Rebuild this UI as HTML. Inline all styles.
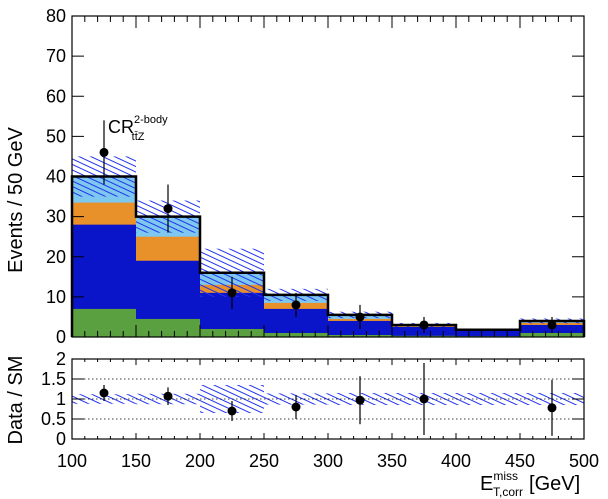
<!DOCTYPE html>
<html><head><meta charset="utf-8"><style>
body{margin:0;background:#fff;}
svg{display:block;font-family:"Liberation Sans",sans-serif;}
</style></head><body>
<svg id="c" width="608" height="499" viewBox="0 0 608 499">
<defs>
<pattern id="hatch" patternUnits="userSpaceOnUse" width="5" height="5" patternTransform="rotate(-155)">
<line x1="0" y1="1.5" x2="5" y2="1.5" stroke="#2233ee" stroke-width="1"/>
</pattern>
</defs>
<g id="main"></g>
<g id="ratio"></g>
</svg>
<script>
const binEdges=[100,150,200,250,300,350,400,450,500];
const green=[7,4.5,2,1,0.5,0.3,0.2,1];
const blue=[28,19,11,7,4,2.5,1.5,3];
const orange=[33.5,25,13,8.5,4.5,2.7,1.6,3.5];
const total=[40,30,16,10.5,5.5,3,1.8,4];
const bandErr=[5,4,6,1.5,0.8,0.5,0.3,0.6];
const dataVal=[46,32,11,8,5,3,null,3];
const dataErr=[8,6,4,3,3,2,0,2];
const ratioVal=[1.15,1.07,0.7,0.8,0.97,1.0,null,0.78];
const ratioErr=[0.2,0.22,0.25,0.3,0.6,0.9,0,0.7];
const ratioBand=[0.12,0.13,0.35,0.14,0.15,0.15,0.15,0.15];
const yTicks=[0,10,20,30,40,50,60,70,80];
const rTicks=[0,0.5,1,1.5,2];
const xTicks=[100,150,200,250,300,350,400,450,500];

const NS="http://www.w3.org/2000/svg";
const X0=72,X1=584;
const x=v=>X0+(v-100)/400*(X1-X0);
const y=v=>337-v*(337-16)/80;
const ry=v=>439-v*40;
function mk(p,t,a){const e=document.createElementNS(NS,t);for(const k in a)e.setAttribute(k,a[k]);p.appendChild(e);return e;}
const M=document.getElementById('main'),R=document.getElementById('ratio');

const layers=[[orange,'#e8902a','orange-layer'],[blue,'#0a14c8','blue-layer'],[green,'#5aa040','green-layer']];
for(let i=0;i<8;i++){
 const xa=x(binEdges[i]),xb=x(binEdges[i+1]);
 let r=mk(M,'rect',{x:xa,y:y(total[i]),width:xb-xa,height:y(0)-y(total[i]),fill:'#7ec8f0'});
 
 
 for(const [arr,col,nm] of layers){
  r=mk(M,'rect',{x:xa,y:y(arr[i]),width:xb-xa,height:y(0)-y(arr[i]),fill:col});
  
  
 }
 r=mk(M,'rect',{x:xa,y:y(total[i]+bandErr[i]),width:xb-xa,height:y(total[i]-bandErr[i])-y(total[i]+bandErr[i]),fill:'url(#hatch)'});
 
 
}
let d='M'+x(100)+','+y(0);
for(let i=0;i<8;i++){d+=' L'+x(binEdges[i])+','+y(total[i])+' L'+x(binEdges[i+1])+','+y(total[i]);}
d+=' L'+x(500)+','+y(0);
let o=mk(M,'path',{d:d,fill:'none',stroke:'#000','stroke-width':2.5});


mk(M,'rect',{x:X0,y:16,width:X1-X0,height:321,fill:'none',stroke:'#000','stroke-width':1.2});
for(const t of yTicks){
 mk(M,'line',{x1:X0,x2:X0+12,y1:y(t),y2:y(t),stroke:'#000'});
 mk(M,'line',{x1:X1,x2:X1-12,y1:y(t),y2:y(t),stroke:'#000'});
 const tx=mk(M,'text',{x:X0-6,y:y(t)+6,'text-anchor':'end','font-size':18});
 tx.textContent=t;
 
 
}
for(let v=100;v<=500;v+=10){const L=v%50==0?12:6;
 mk(M,'line',{x1:x(v),x2:x(v),y1:337,y2:337-L,stroke:'#000'});mk(M,'line',{x1:x(v),x2:x(v),y1:16,y2:16+L,stroke:'#000'});
 mk(R,'line',{x1:x(v),x2:x(v),y1:439,y2:439-L/2,stroke:'#000'});mk(R,'line',{x1:x(v),x2:x(v),y1:359,y2:359+L/2,stroke:'#000'});}
for(let i=0;i<8;i++){if(dataVal[i]==null)continue;const cx=(x(binEdges[i])+x(binEdges[i+1]))/2;
 mk(M,'line',{x1:cx,x2:cx,y1:y(dataVal[i]+dataErr[i]),y2:y(dataVal[i]-dataErr[i]),stroke:'#000','stroke-width':1.2});
 const c=mk(M,'circle',{cx:cx,cy:y(dataVal[i]),r:4.5,fill:'#000'});
 
 
}
for(let i=0;i<8;i++){const xa=x(binEdges[i]),xb=x(binEdges[i+1]);
 const b=mk(R,'rect',{x:xa,y:ry(1+ratioBand[i]),width:xb-xa,height:ry(1-ratioBand[i])-ry(1+ratioBand[i]),fill:'url(#hatch)'});
 
 
}
for(const t of [0.5,1,1.5]) mk(R,'line',{x1:X0,x2:X1,y1:ry(t),y2:ry(t),stroke:'#000','stroke-dasharray':'1.5,2.5','stroke-width':0.8});
mk(R,'rect',{x:X0,y:359,width:X1-X0,height:80,fill:'none',stroke:'#000','stroke-width':1.2});
for(const t of rTicks){
 mk(R,'line',{x1:X0,x2:X0+12,y1:ry(t),y2:ry(t),stroke:'#000'});mk(R,'line',{x1:X1,x2:X1-12,y1:ry(t),y2:ry(t),stroke:'#000'});
 const tx=mk(R,'text',{x:X0-6,y:ry(t)+6,'text-anchor':'end','font-size':18});tx.textContent=t;
 
 
}
for(let i=0;i<8;i++){if(ratioVal[i]==null)continue;const cx=(x(binEdges[i])+x(binEdges[i+1]))/2;
 mk(R,'line',{x1:cx,x2:cx,y1:ry(Math.min(2,ratioVal[i]+ratioErr[i])),y2:ry(Math.max(0,ratioVal[i]-ratioErr[i])),stroke:'#000','stroke-width':1.2});
 const c=mk(R,'circle',{cx:cx,cy:ry(ratioVal[i]),r:4.5,fill:'#000'});
 
 
}
for(const t of xTicks){const tx=mk(R,'text',{x:x(t),y:467,'text-anchor':'middle','font-size':18});tx.textContent=t;
 
 }
</script>
<svg style="position:absolute;left:0;top:0" width="608" height="499">
<text transform="translate(22,200) rotate(-90)" text-anchor="middle" font-size="20" font-family="Liberation Sans,sans-serif">Events / 50 GeV</text>
<text transform="translate(22,400) rotate(-90)" text-anchor="middle" font-size="20" font-family="Liberation Sans,sans-serif">Data / SM</text>
<text x="108" y="133" font-size="18" font-family="Liberation Sans,sans-serif">CR<tspan font-size="11" dy="-10">2-body</tspan><tspan font-size="11" dx="-36" dy="17">tt̄Z</tspan></text>
<text x="480" y="490" font-size="20" font-family="Liberation Sans,sans-serif">E<tspan font-size="12" dy="-10">miss</tspan><tspan font-size="12" dx="-25" dy="16">T,corr</tspan><tspan dy="-6" dx="6">[GeV]</tspan></text>
</svg>
</body></html>
